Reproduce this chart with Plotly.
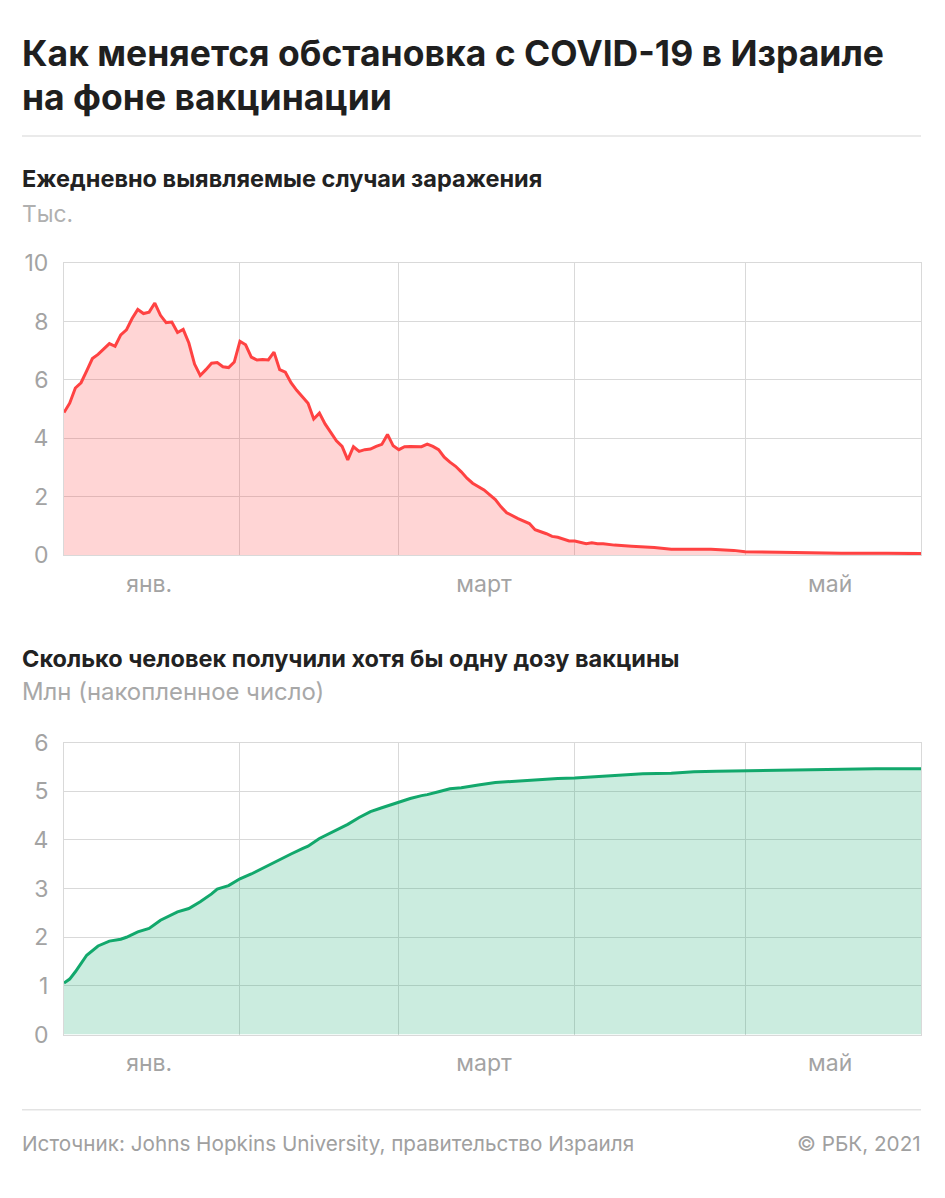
import pandas as pd
import plotly.graph_objects as go

# ---------------- data ----------------
# Daily new cases (thousands), daily from 2021-01-01 to 2021-03-14
cases_head_start = "2021-01-01"
cases_head = [4.88, 5.20, 5.72, 5.90, 6.31, 6.73, 6.87, 7.04, 7.24, 7.15,
              7.54, 7.71, 8.10, 8.41, 8.27, 8.32, 8.63, 8.21, 7.96, 7.98,
              7.62, 7.73, 7.26, 6.54, 6.15, 6.35, 6.57, 6.59, 6.45, 6.42,
              6.61, 7.32, 7.20, 6.78, 6.68, 6.70, 6.68, 6.95, 6.35, 6.26,
              5.90, 5.64, 5.42, 5.20, 4.66, 4.86, 4.49, 4.19, 3.91, 3.72,
              3.26, 3.71, 3.55, 3.61, 3.63, 3.72, 3.79, 4.13, 3.74, 3.61,
              3.71, 3.72, 3.71, 3.71, 3.80, 3.72, 3.61, 3.35, 3.18, 3.04,
              2.85, 2.63, 2.46]
cases_tail_dates = ["2021-03-16", "2021-03-18", "2021-03-19", "2021-03-20", "2021-03-22",
                    "2021-03-24", "2021-03-25", "2021-03-27", "2021-03-28", "2021-03-29",
                    "2021-03-31", "2021-04-01", "2021-04-03", "2021-04-04", "2021-04-05",
                    "2021-04-06", "2021-04-08", "2021-04-11", "2021-04-15", "2021-04-18",
                    "2021-04-22", "2021-04-25", "2021-04-29", "2021-05-01", "2021-05-07",
                    "2021-05-12", "2021-05-18", "2021-05-26", "2021-06-01"]
cases_tail = [2.23, 1.90, 1.65, 1.45, 1.25,
              1.08, 0.87, 0.73, 0.64, 0.61,
              0.48, 0.48, 0.39, 0.42, 0.39,
              0.39, 0.34, 0.30, 0.26, 0.20,
              0.19, 0.20, 0.16, 0.11, 0.10,
              0.08, 0.06, 0.06, 0.05]

# People with at least one vaccine dose (millions, cumulative)
vacc_dates = ["2021-01-01", "2021-01-02", "2021-01-03", "2021-01-04", "2021-01-05",
              "2021-01-07", "2021-01-09", "2021-01-11", "2021-01-12", "2021-01-14",
              "2021-01-16", "2021-01-18", "2021-01-21", "2021-01-23", "2021-01-25",
              "2021-01-27", "2021-01-28", "2021-01-30", "2021-02-01", "2021-02-03",
              "2021-02-05", "2021-02-06", "2021-02-08", "2021-02-10", "2021-02-12",
              "2021-02-13", "2021-02-15", "2021-02-17", "2021-02-19", "2021-02-20",
              "2021-02-22", "2021-02-24", "2021-02-26", "2021-02-27", "2021-03-01",
              "2021-03-03", "2021-03-05", "2021-03-06", "2021-03-08", "2021-03-10",
              "2021-03-12", "2021-03-14", "2021-03-15", "2021-03-18", "2021-03-22",
              "2021-03-26", "2021-03-29", "2021-04-01", "2021-04-04", "2021-04-08",
              "2021-04-13", "2021-04-18", "2021-04-22", "2021-04-26", "2021-05-01",
              "2021-05-06", "2021-05-12", "2021-05-18", "2021-05-24", "2021-06-01"]
vacc_values = [1.06, 1.14, 1.29, 1.47, 1.63,
               1.82, 1.92, 1.96, 2.00, 2.11,
               2.18, 2.35, 2.52, 2.59, 2.73,
               2.89, 2.99, 3.06, 3.20, 3.30,
               3.42, 3.47, 3.59, 3.71, 3.82,
               3.87, 4.03, 4.14, 4.26, 4.32,
               4.46, 4.58, 4.66, 4.70, 4.77,
               4.85, 4.91, 4.93, 4.99, 5.05,
               5.07, 5.10, 5.13, 5.18, 5.21,
               5.25, 5.26, 5.27, 5.29, 5.33,
               5.36, 5.37, 5.40, 5.41, 5.42,
               5.43, 5.44, 5.45, 5.46, 5.46]

month_label_dates = ["2021-01-16", "2021-03-16", "2021-05-16"]
month_labels = ["янв.", "март", "май"]
x_range = ["2021-01-01", "2021-06-01"]

title_lines = ["Как меняется обстановка с COVID-19 в Израиле", "на фоне вакцинации"]

# ---------------- figure ----------------
W, H = 945, 1198
def py(p):
    return 1 - p / H
def px(p):
    return p / W

cases_dates = list(pd.date_range(cases_head_start, periods=len(cases_head)).strftime("%Y-%m-%d")) + cases_tail_dates
cases_values = cases_head + cases_tail

RED = "#ff4242"
GREEN = "#12a86c"
GRID = "#d9d9d9"
TICKC = "#a3a3a3"
FONT = "Inter"

fig = go.Figure()
fig.add_trace(go.Scatter(x=cases_dates, y=cases_values, mode="lines",
                         line=dict(color=RED, width=3), fill="tozeroy",
                         fillcolor="rgba(255,66,66,0.22)", xaxis="x", yaxis="y",
                         hoverinfo="skip"))
fig.add_trace(go.Scatter(x=vacc_dates, y=vacc_values, mode="lines",
                         line=dict(color=GREEN, width=3), fill="tozeroy",
                         fillcolor="rgba(18,168,108,0.22)", xaxis="x2", yaxis="y2",
                         hoverinfo="skip"))

xdom = [px(64), px(921)]
def xaxis_cfg(anchor):
    return dict(domain=xdom, anchor=anchor, type="date", range=x_range,
                tickmode="array", tickvals=month_label_dates, ticktext=month_labels,
                showgrid=False, ticks="", zeroline=False,
                showline=True, mirror=True, linecolor=GRID, linewidth=1,
                tickfont=dict(family=FONT, size=23, color=TICKC),
                ticklabelstandoff=8,
                minor=dict(dtick="M1", tick0="2021-01-01", showgrid=True,
                           gridcolor=GRID, gridwidth=1, ticks=""),
                fixedrange=True)

def yaxis_cfg(anchor, dom, rng, dt):
    return dict(domain=dom, anchor=anchor, range=rng, dtick=dt, tick0=0,
                showgrid=True, gridcolor=GRID, gridwidth=1, ticks="",
                zeroline=False, showline=True, mirror=True, linecolor=GRID,
                linewidth=1, tickfont=dict(family=FONT, size=23, color=TICKC),
                ticklabelstandoff=10, fixedrange=True)

fig.update_layout(
    width=W, height=H, margin=dict(l=0, r=0, t=0, b=0),
    paper_bgcolor="white", plot_bgcolor="white", showlegend=False,
    xaxis=xaxis_cfg("y"),
    yaxis=yaxis_cfg("x", [py(554), py(255)], [0, 10], 2),
    xaxis2=xaxis_cfg("y2"),
    yaxis2=yaxis_cfg("x2", [py(1045), py(746)], [0, 6], 1),
)

def ann(text, x, y, size, color, bold=False, xanchor="left", yanchor="middle"):
    fig.add_annotation(text=("<b>%s</b>" % text) if bold else text,
                       x=px(x), y=py(y), xref="paper", yref="paper",
                       xanchor=xanchor, yanchor=yanchor, showarrow=False, align="left",
                       font=dict(family=FONT, size=size, color=color))

# title: base size sets the line spacing, each line drawn at 35.5px
title_html = "<br>".join('<span style="font-size:35.5px">%s</span>' % t for t in title_lines)
ann(title_html, 20, 63, 33.5, "#1f1f1f", bold=True)
ann("Ежедневно выявляемые случаи заражения", 20, 168, 23.5, "#222222", bold=True)
ann("Тыс.", 20, 204, 22.8, "#b0b0b0")
ann("Сколько человек получили хотя бы одну дозу вакцины", 20, 660, 23.5, "#222222", bold=True)
ann("Млн (накопленное число)", 20, 694, 23.9, "#a8a8a8")
ann("Источник: Johns Hopkins University, правительство Израиля", 20, 1157, 20.7, "#a0a0a0")
ann("© РБК, 2021", 923, 1157, 20.7, "#a0a0a0", xanchor="right")

for yy in (125, 1122):
    fig.add_shape(type="line", xref="paper", yref="paper",
                  x0=px(22), x1=px(921), y0=py(yy), y1=py(yy),
                  line=dict(color="#e3e3e3", width=1.5))

fig.write_html("out.html", config={"displayModeBar": False},
               post_script="document.body.style.margin='0';")
